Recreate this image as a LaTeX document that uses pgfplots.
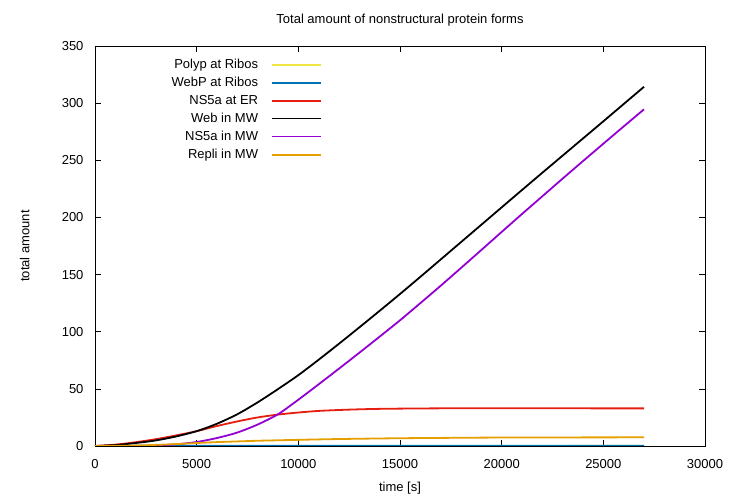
\documentclass[border=0pt]{standalone}
\usepackage{fontspec}
\setmainfont{Liberation Sans}
\usepackage{pgfplots}
\pgfplotsset{compat=1.18}
\definecolor{gyellow}{HTML}{F0E442}
\definecolor{gblue}{HTML}{0072B2}
\definecolor{gred}{HTML}{E51E10}
\definecolor{gpurple}{HTML}{9400D3}
\definecolor{gorange}{HTML}{E69F00}
\begin{document}
\begin{tikzpicture}
\useasboundingbox (0,0) rectangle (736pt,503pt);
\begin{axis}[
  at={(95pt,57pt)}, anchor=south west,
  scale only axis, width=610pt, height=400pt,
  xmin=0, xmax=30000, ymin=0, ymax=350,
  xtick={0,5000,...,30000}, ytick={0,50,...,350},
  scaled x ticks=false,
  xticklabel style={/pgf/number format/1000 sep={}, yshift=-10pt},
  yticklabel style={xshift=-8pt},
  /pgf/number format/assume math mode=true,
  tick align=inside, major tick length=6pt,
  tick style={black, line width=0.6pt},
  axis line style={line width=0.8pt},
  font=\fontsize{13}{15}\selectfont,
  ticklabel style={font=\fontsize{13}{15}\selectfont},
  title={Total amount of nonstructural protein forms},
  title style={at={(axis description cs:0.5,1)}, anchor=south, yshift=10pt},
  xlabel={time [s]},
  ylabel={total amount},
  xlabel style={at={(axis description cs:0.5,-0.105)}, anchor=center},
  ylabel style={at={(axis description cs:-0.115,0.5)}, anchor=center},
  legend cell align=right,
  legend plot pos=right,
  legend style={draw=none, fill=none, at={(rel axis cs:0.378,0.9775)}, anchor=north east,
    row sep=3.15pt, column sep=7pt, font=\fontsize{13}{15}\selectfont,
    nodes={inner xsep=6.5pt}},
  legend image code/.code={\draw[#1, line width=1.8pt] (0pt,0pt) -- (49pt,0pt);},
  every axis plot/.append style={line width=1.8pt},
]
\addplot[gyellow] coordinates {(0,0) (27000,0.1)};
\addlegendentry{Polyp at Ribos}
\addplot[gblue] coordinates {(0,0) (1000,0.2) (27000,0.2)};
\addlegendentry{WebP at Ribos}
\addplot[gred, smooth] coordinates {
(0,0) (1000,1.2) (2000,3.3) (3000,6) (4000,9.3) (5000,13) (6000,17.5) (7000,21.5) (8000,25)
(9000,27.5) (10000,29.3) (11000,30.7) (12000,31.5) (13000,32.1) (14000,32.5) (15000,32.7)
(16000,32.85) (17000,32.95) (18000,33) (20000,33) (22000,33) (24000,32.95) (27000,32.9)};
\addlegendentry{NS5a at ER}
\addplot[black, smooth] coordinates {
(0,0) (1000,0.8) (2000,2.6) (3000,4.9) (4000,8.4) (5000,13) (6000,19.5) (7000,27.8) (8000,38.2)
(9000,49.8) (10000,62) (11000,75.5) (12000,89.5) (13000,103.8) (14000,118.3) (15000,133)
(16000,148) (17000,163.2) (18000,178.4) (19000,193.6) (20000,208.8) (21000,224)
(22000,239.1) (23000,254.1) (24000,269.1) (25000,284.1) (26000,299.2) (27000,314.3)};
\addlegendentry{Web in MW}
\addplot[gpurple, smooth] coordinates {
(0,0) (1000,0) (2000,0.1) (3000,0.5) (4000,1.5) (5000,3.5) (6000,7) (7000,11.8) (8000,18.8)
(9000,27.8) (10000,40.5) (11000,54) (12000,67.7) (13000,81.6) (14000,95.7) (15000,110)
(16000,125) (17000,140.2) (18000,155.8) (19000,171.5) (20000,187.3) (21000,203) (22000,218.5)
(23000,234) (24000,249.3) (25000,264.5) (26000,279.6) (27000,294.6)};
\addlegendentry{NS5a in MW}
\addplot[gorange, smooth] coordinates {
(0,0) (1000,0.1) (2000,0.4) (3000,1) (4000,1.7) (5000,2.6) (6000,3.4) (7000,4) (8000,4.6)
(9000,5) (10000,5.4) (12000,6.1) (15000,6.8) (18000,7.2) (20000,7.4) (23000,7.5) (27000,7.6)};
\addlegendentry{Repli in MW}
\end{axis}
\end{tikzpicture}
\end{document}
